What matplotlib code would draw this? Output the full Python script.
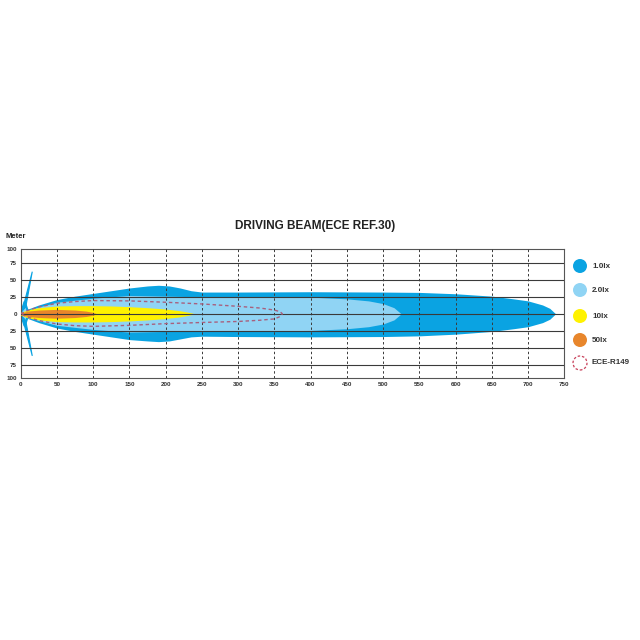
import matplotlib
matplotlib.use('Agg')
import matplotlib.pyplot as plt
from matplotlib.patches import Circle, Polygon

plt.rcParams['font.family'] = ['Liberation Sans', 'DejaVu Sans']

# beam contours: distance [m] and lateral half-width [m]
lx1_x = [0, 10, 25, 50, 75, 100, 125, 150, 175, 190, 205, 220, 235, 250, 300, 400, 500, 550, 600, 650, 680, 700, 720, 730, 738]
lx1_top = [3, 7, 13, 21, 26, 30, 34, 38, 41, 42, 41, 38, 34, 32, 32, 32.5, 32, 31.5, 29.5, 26, 22, 19, 13, 8, 0]
lx1_bot = [-3, -7, -13, -21, -26, -30, -34, -38, -40, -41, -40, -37, -34, -33, -33.5, -34, -33.5, -32.5, -30, -26, -22, -19, -13, -8, 0]

lx2_x = [0, 25, 50, 100, 150, 200, 250, 300, 350, 400, 450, 480, 500, 515, 525]
lx2_top = [2, 10, 17, 23, 27, 26, 25, 25, 25, 24.5, 22, 19, 15, 9, 0]
lx2_bot = [-2, -10, -17, -23, -27, -26, -25, -25, -25, -24.5, -22, -19, -15, -9, 0]

lx10_x = [0, 10, 25, 50, 75, 100, 125, 150, 175, 200, 220, 235, 240]
lx10_top = [2, 6, 9, 11.5, 12, 12, 11.5, 10.5, 9, 7, 4.5, 1.5, 0]

lx50_x = [0, 10, 25, 50, 75, 90, 100, 105]
lx50_top = [1, 4, 5.5, 6.5, 5.5, 4, 2, 0]

ece_x = [0, 10, 25, 50, 75, 100, 150, 200, 250, 300, 330, 350, 358, 361]
ece_top = [0, 5, 10, 15.5, 18, 19.5, 19, 17, 14.5, 11, 8.5, 5.5, 3, 0]
ece_bot = [0, -5, -10, -15, -17.5, -18.5, -17, -14.5, -12.8, -11.3, -9.5, -7.5, -4, 0]

# small near-field lobe and side spikes
lobe = [(0, 0), (5.5, 18), (11, 0), (5.5, -18)]
spike_up = [(2, 4), (16, 62), (7, 10)]
spike_dn = [(2, -4), (16, -62), (7, -10)]

x_ticks = list(range(0, 751, 50))
y_ticks = [95, 75, 50, 25, 0, -25, -50, -75, -95]
y_labels = ['100', '75', '50', '25', '0', '25', '50', '75', '100']

legend_labels = ['1.0lx', '2.0lx', '10lx', '50lx', 'ECE-R149']

c1 = '#0aa3e2'
c2 = '#90d4f4'
c10 = '#fff200'
c50 = '#e8862c'
cece = '#a8607e'

fig = plt.figure(figsize=(6.4, 6.4), dpi=100)
ax = fig.add_axes([0.0323, 0.4089, 0.8494, 0.2016])

ax.fill_between(lx1_x, lx1_bot, lx1_top, color=c1, lw=0, zorder=1)
ax.fill_between(lx2_x, lx2_bot, lx2_top, color=c2, lw=0, zorder=2)
ax.fill_between(lx10_x, [-v for v in lx10_top], lx10_top, color=c10, lw=0, zorder=3)
ax.fill_between(lx50_x, [-v for v in lx50_top], lx50_top, color=c50, lw=0, zorder=4)

ax.add_patch(Polygon(lobe, closed=True, fc=c2, ec=c1, lw=1.5, zorder=2))
ax.add_patch(Polygon(spike_up, closed=True, fc=c1, ec=c1, lw=0.8, zorder=2))
ax.add_patch(Polygon(spike_dn, closed=True, fc=c1, ec=c1, lw=0.8, zorder=2))

ax.plot(ece_x + ece_x[::-1], ece_top + ece_bot[::-1], color=cece, lw=1.0,
        ls=(0, (2.5, 2)), zorder=6)

# grid: solid horizontal, dashed vertical, on top of the beam
for yv in [75, 50, 25, 0, -25, -50, -75]:
    ax.axhline(yv, color='#3a3a3a', lw=0.8, zorder=5)
for xv in x_ticks[1:-1]:
    ax.axvline(xv, color='#3a3a3a', lw=0.7, ls=(0, (2.5, 2.5)), zorder=5)

ax.set_xlim(0, 750)
ax.set_ylim(-95, 95)
ax.set_xticks(x_ticks)
ax.set_xticklabels([str(v) for v in x_ticks], fontsize=4.5, fontweight='bold', color='#333333')
ax.set_yticks(y_ticks)
ax.set_yticklabels(y_labels, fontsize=4.5, fontweight='bold', color='#333333')
ax.tick_params(length=0, pad=2.5)
for s in ax.spines.values():
    s.set_color('#555555')
    s.set_linewidth(0.8)

fig.text(0.492, 0.647, 'DRIVING BEAM(ECE REF.30)', ha='center', va='center',
         fontsize=8.5, fontweight='bold', color='#222222')
fig.text(0.008, 0.631, 'Meter', ha='left', va='center', fontsize=5.5,
         fontweight='bold', color='#222222')

# legend
leg_y = [266, 290, 316, 340, 363]
leg_cols = [c1, c2, c10, c50, None]
for yp, col, lab in zip(leg_y, leg_cols, legend_labels):
    yf = 1 - yp / 640
    if col is None:
        fig.add_artist(Circle((580 / 640, yf), 7 / 640, transform=fig.transFigure,
                              fc='none', ec='#c8405a', lw=0.9, ls=(0, (2, 1.5))))
    else:
        fig.add_artist(Circle((580 / 640, yf), 7 / 640, transform=fig.transFigure,
                              fc=col, ec='none'))
    fig.text(592 / 640, yf, lab, ha='left', va='center', fontsize=5.8,
             fontweight='bold', color='#333333')

fig.savefig('out.png', dpi=100, facecolor='white')
